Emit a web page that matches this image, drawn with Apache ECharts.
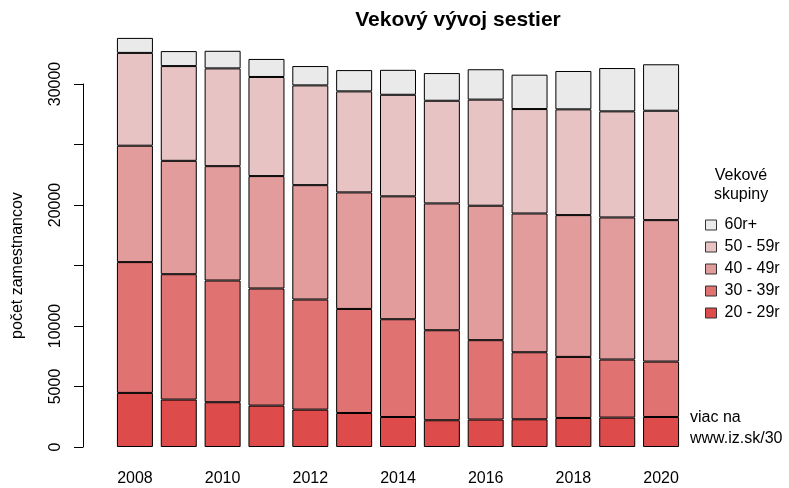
<!DOCTYPE html>
<html>
<head>
<meta charset="utf-8">
<script src="https://cdn.jsdelivr.net/npm/echarts@6/dist/echarts.min.js"></script>
<style>
  html, body { margin: 0; padding: 0; background: #fff; }
  #chart { width: 789px; height: 488px; }
</style>
</head>
<body>
<div id="chart"></div>
<script>
const years = ['2008', '2009', '2010', '2011', '2012', '2013', '2014', '2015', '2016', '2017', '2018', '2019', '2020']
const age20 = [4470, 3920, 3700, 3420, 3090, 2810, 2480, 2210, 2270, 2290, 2400, 2430, 2480]
const age30 = [10810, 10360, 10060, 9680, 9100, 8600, 8080, 7440, 6560, 5540, 5045, 4800, 4580]
const age40 = [9620, 9370, 9450, 9290, 9450, 9630, 10155, 10480, 11110, 11470, 11720, 11740, 11690]
const age50 = [7670, 7830, 8080, 8190, 8245, 8350, 8395, 8485, 8770, 8630, 8740, 8770, 9040]
const age60 = [1240, 1240, 1455, 1490, 1600, 1760, 2060, 2290, 2510, 2840, 3170, 3580, 3840]
const groupNames = ['20 - 29r', '30 - 39r', '40 - 49r', '50 - 59r', '60r+']
const groupColors = ['#dd4b4b', '#e17272', '#e39c9c', '#e7c3c3', '#eaeaea']
const shownTicks = [0, 5000, 10000, 20000, 30000]

const font = 'Liberation Sans, Arial, sans-serif'
const chart = echarts.init(document.getElementById('chart'))

const seriesData = [age20, age30, age40, age50, age60]

chart.setOption({
  animation: false,
  textStyle: { fontFamily: font },
  title: [
    {
      text: 'Vekový vývoj sestier',
      left: 453,
      top: 5,
      textAlign: 'center',
      textStyle: { fontSize: 21, fontWeight: 'bold', color: '#000', fontFamily: font }
    },
    {
      text: 'Vekové\nskupiny',
      left: 736,
      top: 161,
      textAlign: 'center',
      textStyle: { fontSize: 16, fontWeight: 'normal', color: '#000', lineHeight: 19, fontFamily: font }
    },
    {
      text: 'viac na\nwww.iz.sk/30',
      left: 685,
      top: 402,
      textStyle: { fontSize: 16, fontWeight: 'normal', color: '#000', lineHeight: 21, fontFamily: font }
    }
  ],
  legend: {
    data: groupNames.slice().reverse(),
    orient: 'vertical',
    left: 700,
    top: 212,
    itemWidth: 11,
    itemHeight: 10,
    itemGap: 6,
    icon: 'rect',
    itemStyle: { borderColor: '#333', borderWidth: 1 },
    textStyle: { fontSize: 16, color: '#000', fontFamily: font, padding: [0, 0, 0, 3] }
  },
  grid: {
    left: 113,
    right: 106,
    top: 84,
    bottom: 41
  },
  xAxis: {
    type: 'category',
    data: years,
    axisLine: { show: false },
    axisTick: { show: false },
    axisLabel: { interval: 1, fontSize: 16, color: '#000', margin: 24, fontFamily: font }
  },
  yAxis: {
    type: 'value',
    min: 0,
    max: 30000,
    interval: 5000,
    offset: 30,
    name: 'počet zamestnancov',
    nameLocation: 'middle',
    nameRotate: 90,
    nameGap: 57,
    nameTextStyle: { fontSize: 16, color: '#000', fontFamily: font },
    axisLine: { show: true, lineStyle: { color: '#000', width: 1 } },
    axisTick: { show: true, length: 9, lineStyle: { color: '#000' } },
    splitLine: { show: false },
    axisLabel: {
      rotate: 90,
      fontSize: 16,
      color: '#000',
      margin: 19,
      fontFamily: font,
      formatter: v => shownTicks.includes(v) ? String(v) : ''
    }
  },
  series: seriesData.map((d, i) => ({
    name: groupNames[i],
    type: 'bar',
    stack: 'total',
    data: d,
    clip: false,
    barWidth: 36,
    itemStyle: { color: groupColors[i], borderColor: '#000', borderWidth: 1 }
  }))
})
</script>
</body>
</html>
